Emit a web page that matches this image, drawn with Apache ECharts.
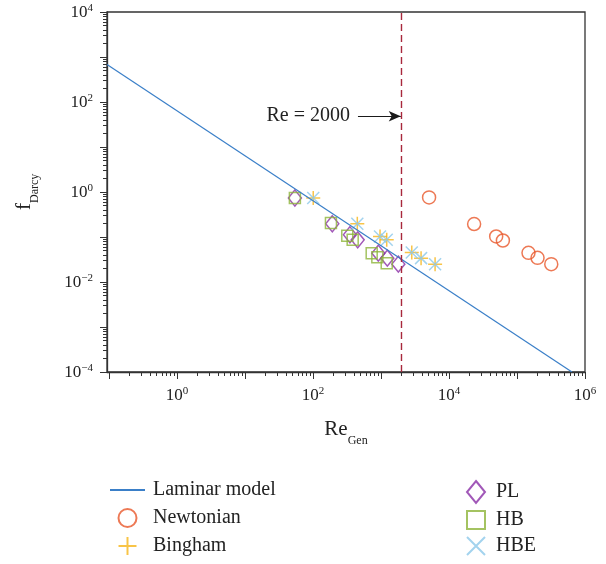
<!DOCTYPE html>
<html>
<head>
<meta charset="utf-8">
<script src="https://cdn.jsdelivr.net/npm/echarts@6/dist/echarts.min.js"></script>
<style>
  html, body { margin: 0; padding: 0; background: #fff; }
  #chart { width: 606px; height: 564px; }
</style>
</head>
<body>
<div id="chart"></div>
<script>
// Re_Gen vs f_Darcy
var xRange = [0.0933, 1e6];
var yRange = [1e-4, 1e4];
var xLabelDecades = [0, 2, 4, 6];
var yLabelDecades = [-4, -2, 0, 2, 4];

var laminarRe = [0.0933, 643000];
var laminarF = [684, 0.0001];

var newtonianRe = [5090, 23400, 49400, 62000, 147600, 200400, 319000];
var newtonianF = [0.758, 0.194, 0.1026, 0.0836, 0.0445, 0.0344, 0.0249];

var binghamRe = [100.7, 448, 967, 1213, 2833, 3882, 6240];
var binghamF = [0.735, 0.197, 0.1026, 0.0866, 0.0452, 0.0339, 0.0249];

var hbeRe = [100.7, 448, 967, 1213, 2833, 3882, 6240];
var hbeF = [0.735, 0.197, 0.1026, 0.0866, 0.0452, 0.0339, 0.0249];

var plRe = [54.1, 192, 349, 454, 912, 1238, 1798];
var plF = [0.735, 0.197, 0.112, 0.0866, 0.0438, 0.0339, 0.0249];

var hbRe = [54.1, 183.5, 319, 383, 729, 883, 1213];
var hbF = [0.735, 0.204, 0.106, 0.0866, 0.0438, 0.0357, 0.0262];

var reCritical = 2000;
var arrowRe = [458, 1950];
var arrowF = 48.3;

var font = 'Liberation Serif, DejaVu Serif, serif';
var lg = Math.log10;

function pts(xs, ys) {
  return xs.map(function (x, i) { return [lg(x), lg(ys[i])]; });
}
function majors(r) {
  var out = [];
  for (var n = Math.ceil(lg(r[0])); n <= Math.floor(lg(r[1])); n++) out.push(n);
  return out;
}
function minors(r) {
  var out = [];
  for (var n = Math.floor(lg(r[0])); n < Math.ceil(lg(r[1])); n++) {
    for (var k = 2; k <= 9; k++) {
      var v = n + lg(k);
      if (v >= lg(r[0]) && v <= lg(r[1])) out.push(v);
    }
  }
  return out;
}
function powLabel(v) {
  var e = Math.round(v);
  return '{b|10}{s|' + (e < 0 ? '\u2212' + (-e) : e) + '}';
}
var labelRich = {
  b: { fontFamily: font, fontSize: 17, color: '#222', lineHeight: 18, verticalAlign: 'bottom' },
  s: { fontFamily: font, fontSize: 11, color: '#222', lineHeight: 11, verticalAlign: 'top' }
};

var chart = echarts.init(document.getElementById('chart'));

var axisLine = { show: true, onZero: false, lineStyle: { color: '#333', width: 1.3 } };
var noLine = { show: false, onZero: false };

chart.setOption({
  animation: false,
  grid: {
    left: 107, right: 21, top: 12, bottom: 192,
    show: true, borderColor: '#333', borderWidth: 1.3,
    outerBoundsMode: 'none'
  },
  legend: [
    {
      data: [
        { name: 'Laminar model', itemStyle: { color: 'rgba(0,0,0,0)', borderColor: 'rgba(0,0,0,0)' } },
        'Newtonian', 'Bingham'
      ],
      orient: 'vertical', left: 109, top: 480, height: 100, padding: 0,
      itemWidth: 35, itemHeight: 18, itemGap: 8,
      selectedMode: false,
      textStyle: { fontFamily: font, fontSize: 20, color: '#222', padding: [0, 0, 0, 3] }
    },
    {
      data: ['PL', 'HB', 'HBE'],
      orient: 'vertical', left: 466, top: 480, height: 100, padding: 0,
      itemWidth: 18, itemHeight: 22, itemGap: 6,
      selectedMode: false,
      textStyle: { fontFamily: font, fontSize: 20, color: '#222', padding: [0, 0, 0, 6] }
    }
  ],
  xAxis: [
    {
      type: 'value', position: 'bottom',
      min: lg(xRange[0]), max: lg(xRange[1]),
      axisLine: axisLine,
      splitLine: { show: false },
      axisTick: { customValues: majors(xRange), length: 7, lineStyle: { color: '#333' } },
      axisLabel: { customValues: xLabelDecades, formatter: powLabel, rich: labelRich, margin: 14 },
      name: '{b|Re}{s|Gen}', nameLocation: 'middle', nameGap: 47,
      nameTextStyle: {
        rich: {
          b: { fontFamily: font, fontSize: 21, color: '#222', lineHeight: 28, verticalAlign: 'top' },
          s: { fontFamily: font, fontSize: 12, color: '#222', lineHeight: 12, verticalAlign: 'bottom' }
        }
      }
    },
    {
      type: 'value', position: 'bottom',
      min: lg(xRange[0]), max: lg(xRange[1]),
      axisLine: noLine,
      splitLine: { show: false },
      axisTick: { customValues: minors(xRange), length: 4, lineStyle: { color: '#333' } },
      axisLabel: { show: false }
    }
  ],
  yAxis: [
    {
      type: 'value', position: 'left',
      min: lg(yRange[0]), max: lg(yRange[1]),
      axisLine: axisLine,
      splitLine: { show: false },
      axisTick: { customValues: majors(yRange), length: 7, lineStyle: { color: '#333' } },
      axisLabel: { customValues: yLabelDecades, formatter: powLabel, rich: labelRich, margin: 14 },
      name: '{b|f}{s|Darcy}', nameLocation: 'middle', nameGap: 66, nameRotate: 90,
      nameTextStyle: {
        rich: {
          b: { fontFamily: font, fontSize: 22, color: '#222', lineHeight: 28, verticalAlign: 'top' },
          s: { fontFamily: font, fontSize: 12, color: '#222', lineHeight: 12, verticalAlign: 'bottom' }
        }
      }
    },
    {
      type: 'value', position: 'left',
      min: lg(yRange[0]), max: lg(yRange[1]),
      axisLine: noLine,
      splitLine: { show: false },
      axisTick: { customValues: minors(yRange), length: 4, lineStyle: { color: '#333' } },
      axisLabel: { show: false }
    }
  ],
  series: [
    {
      name: 'Laminar model', type: 'line', data: pts(laminarRe, laminarF),
      symbol: 'none', lineStyle: { color: '#3a7fc8', width: 1.2 },
      itemStyle: { color: 'rgba(0,0,0,0)', borderColor: 'rgba(0,0,0,0)', borderWidth: 0 }
    },
    {
      name: 'Re = 2000', type: 'line',
      data: [[lg(reCritical), lg(yRange[0])], [lg(reCritical), lg(yRange[1])]],
      symbol: 'none', lineStyle: { color: '#a8283c', width: 1.4, type: [7, 4] },
      markLine: {
        silent: true, symbol: ['none', 'arrow'], symbolSize: [8, 12],
        lineStyle: { color: '#1a1a1a', type: 'solid', width: 1.2 },
        label: { show: true, position: 'start', formatter: 'Re = 2000', fontFamily: font, fontSize: 20, color: '#222', distance: 8 },
        data: [[{ coord: [lg(arrowRe[0]), lg(arrowF)] }, { coord: [lg(arrowRe[1]), lg(arrowF)] }]]
      }
    },
    {
      name: 'Newtonian', type: 'scatter', data: pts(newtonianRe, newtonianF),
      symbol: 'circle', symbolSize: 13,
      itemStyle: { color: 'rgba(0,0,0,0)', borderColor: '#e9572a', borderWidth: 1.5 }
    },
    {
      name: 'PL', type: 'scatter', data: pts(plRe, plF),
      symbol: 'path://M9,0L18,11L9,22L0,11Z', symbolSize: [13, 16],
      itemStyle: { color: 'rgba(0,0,0,0)', borderColor: '#8a2ea6', borderWidth: 1.5 }
    },
    {
      name: 'HB', type: 'scatter', data: pts(hbRe, hbF),
      symbol: 'path://M0,0L10,0L10,10L0,10Z', symbolSize: 11, symbolKeepAspect: true,
      itemStyle: { color: 'rgba(0,0,0,0)', borderColor: '#8db43a', borderWidth: 1.5 }
    },
    {
      name: 'Bingham', type: 'scatter', data: pts(binghamRe, binghamF),
      symbol: 'path://M6,0L6,12M0,6L12,6', symbolSize: 14, symbolKeepAspect: true,
      itemStyle: { color: 'rgba(0,0,0,0)', borderColor: '#f6b519', borderWidth: 1.5 }
    },
    {
      name: 'HBE', type: 'scatter', data: pts(hbeRe, hbeF),
      symbol: 'path://M0,0L12,12M12,0L0,12', symbolSize: 12, symbolKeepAspect: true,
      itemStyle: { color: 'rgba(0,0,0,0)', borderColor: '#8cc8ea', borderWidth: 1.5 }
    }
  ]
});
</script>
</body>
</html>
